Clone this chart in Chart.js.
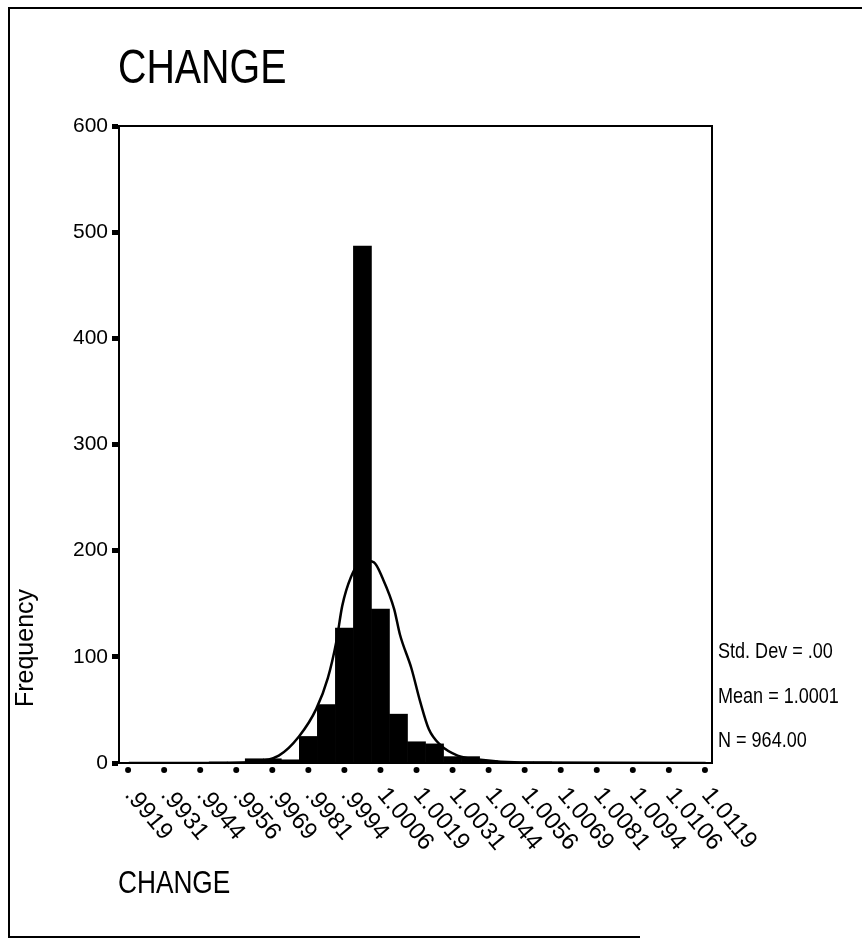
<!DOCTYPE html>
<html>
<head>
<meta charset="utf-8">
<script src="https://cdn.jsdelivr.net/npm/chart.js@4.4.1/dist/chart.umd.min.js"></script>
<style>
  html, body { margin: 0; padding: 0; background: #fff; }
</style>
</head>
<body>
<canvas id="hist" width="862" height="944"></canvas>
<script>
// histogram bins of CHANGE (midpoints, bin width .000625)
const binMids = [
  0.991875, 0.9925, 0.993125, 0.99375, 0.994375, 0.995, 0.995625, 0.99625,
  0.996875, 0.9975, 0.998125, 0.99875, 0.999375, 1.0, 1.000625, 1.00125,
  1.001875, 1.0025, 1.003125, 1.00375, 1.004375, 1.005, 1.005625, 1.00625,
  1.006875, 1.0075, 1.008125, 1.00875, 1.009375, 1.01, 1.010625, 1.01125, 1.011875
];
const counts = [
  0, 0, 0, 0, 0, 1, 1, 4,
  4, 3, 25, 55, 127, 487, 145, 46,
  20, 18, 6, 6, 2, 1, 1, 1,
  0, 0, 0, 0, 0, 0, 0, 0, 0
];

// normal curve
const curveX = [0.9919, 0.9951, 0.9961, 0.9971, 0.9978, 0.9984, 0.9988, 0.9991, 0.9993, 0.9996,
  1.0000, 1.0004, 1.0007, 1.0011, 1.0013, 1.0017, 1.0020, 1.0023, 1.0027, 1.0033, 1.0041, 1.0055, 1.0119];
const curveY = [0, 0, 1, 7, 25, 51, 80, 115, 148, 175,
  191, 189, 174, 145, 121, 89, 58, 32, 17, 7, 3, 0.5, 0];

const tickVals = [0.991875, 0.993125, 0.994375, 0.995625, 0.996875, 0.998125, 0.999375, 1.000625,
  1.001875, 1.003125, 1.004375, 1.005625, 1.006875, 1.008125, 1.009375, 1.010625, 1.011875];
const tickLabels = [".9919", ".9931", ".9944", ".9956", ".9969", ".9981", ".9994", "1.0006",
  "1.0019", "1.0031", "1.0044", "1.0056", "1.0069", "1.0081", "1.0094", "1.0106", "1.0119"];

const stats = ["Std. Dev = .00", "Mean = 1.0001", "N = 964.00"];

const sans = '"Liberation Sans", Arial, sans-serif';

// no narrow face installed, so squeeze regular text sideways
function narrowText(ctx, text, x, y, size) {
  ctx.save();
  ctx.font = size + 'px ' + sans;
  ctx.translate(x, y);
  ctx.scale(0.82, 1);
  ctx.fillText(text, 0, 0);
  ctx.restore();
}

// frame, plot box, x ticks, titles and the stats block
const decor = {
  id: 'decor',
  afterDraw(chart) {
    const { ctx, chartArea: a, scales: { x } } = chart;
    ctx.save();
    ctx.strokeStyle = '#000';
    ctx.fillStyle = '#000';

    ctx.lineWidth = 2;
    ctx.beginPath();
    ctx.moveTo(862, 8); ctx.lineTo(9, 8); ctx.lineTo(9, 937); ctx.lineTo(640, 937);
    ctx.stroke();

    ctx.strokeRect(a.left, a.top, a.right - a.left, a.bottom - a.top);

    ctx.font = '24px ' + sans;
    ctx.textAlign = 'left';
    ctx.textBaseline = 'middle';
    tickVals.forEach((v, i) => {
      const px = x.getPixelForValue(v);
      ctx.beginPath();
      ctx.arc(px, a.bottom + 7, 3, 0, Math.PI * 2);
      ctx.fill();
      ctx.save();
      ctx.translate(px + 1, a.bottom + 28);
      ctx.rotate(50 * Math.PI / 180);
      ctx.fillText(tickLabels[i], 0, 0);
      ctx.restore();
    });

    narrowText(ctx, 'CHANGE', 118, 70, 48);
    narrowText(ctx, 'CHANGE', 118, 884, 32);

    ctx.save();
    ctx.font = '25px ' + sans;
    ctx.translate(26, 648);
    ctx.rotate(-Math.PI / 2);
    ctx.textAlign = 'center';
    ctx.fillText('Frequency', 0, 0);
    ctx.restore();

    stats.forEach((s, i) => narrowText(ctx, s, a.right + 6, 652 + i * 44.5, 22));

    ctx.restore();
  }
};

const chart = new Chart(document.getElementById('hist'), {
  data: {
    datasets: [
      {
        type: 'line',
        data: curveX.map((v, i) => ({ x: v, y: curveY[i] })),
        borderColor: '#000',
        borderWidth: 2.5,
        pointRadius: 0,
        cubicInterpolationMode: 'monotone',
        order: 0
      },
      {
        type: 'bar',
        data: binMids.map((v, i) => ({ x: v, y: counts[i] })),
        backgroundColor: '#000',
        borderWidth: 0,
        barPercentage: 1,
        categoryPercentage: 1,
        order: 1
      }
    ]
  },
  options: {
    responsive: false,
    animation: false,
    layout: { padding: { left: 0, top: 126, right: 150, bottom: 173 } },
    plugins: { legend: { display: false }, tooltip: { enabled: false } },
    scales: {
      x: {
        type: 'linear',
        min: 0.99156,
        max: 1.01212,
        offset: false,
        ticks: { display: false },
        grid: { display: false },
        border: { display: true, color: '#000', width: 2 }
      },
      y: {
        min: 0,
        max: 600,
        ticks: { stepSize: 100, color: '#000', padding: 4, font: { family: sans, size: 21 } },
        grid: { drawOnChartArea: false, tickLength: 7, tickWidth: 5, tickColor: '#000' },
        border: { display: true, color: '#000', width: 2 },
        afterFit: (scale) => { scale.width = 119; }
      }
    }
  },
  plugins: [decor]
});
</script>
</body>
</html>
